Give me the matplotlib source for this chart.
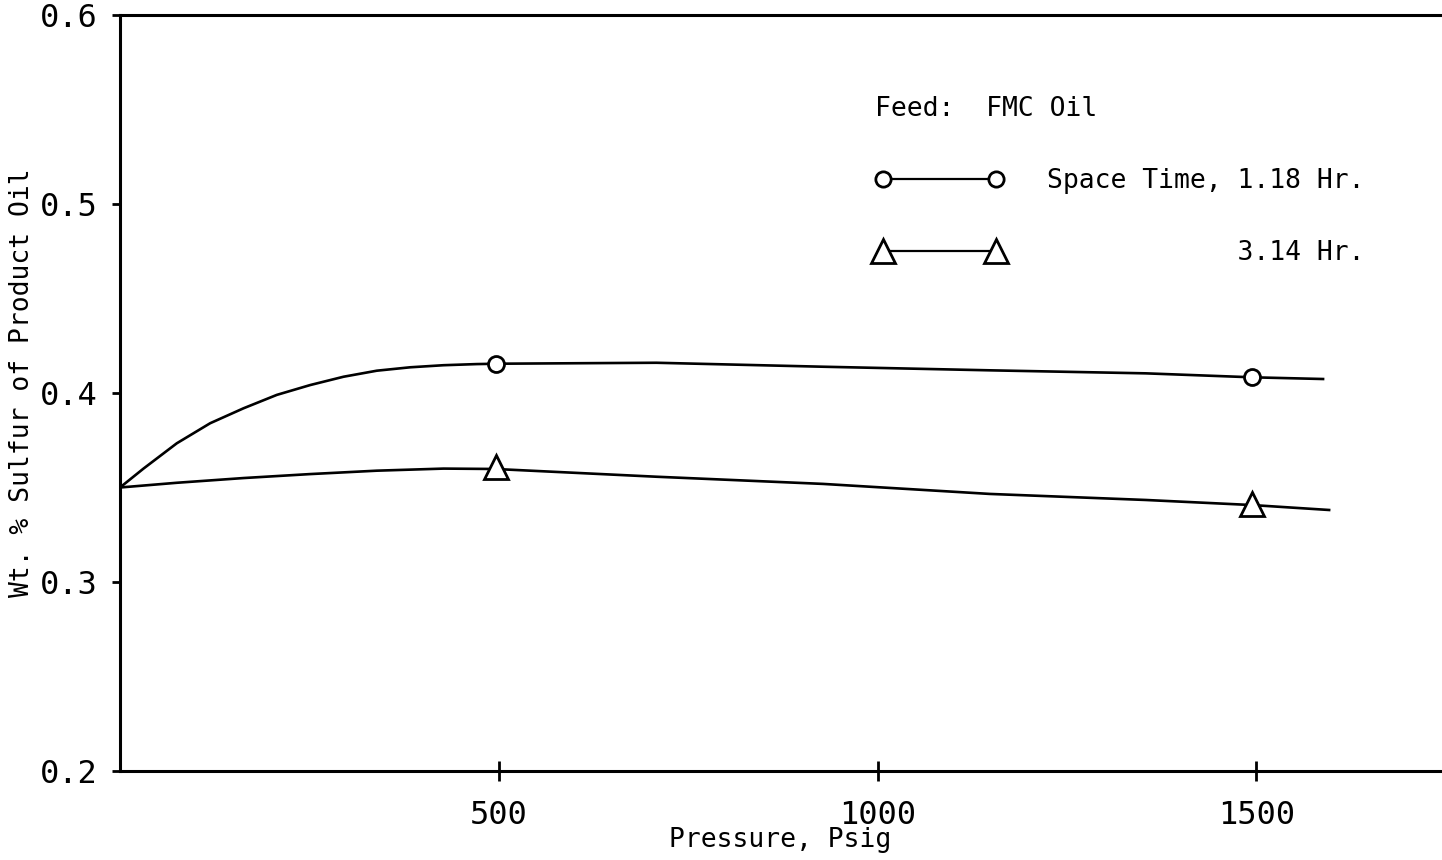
import matplotlib
matplotlib.use("Agg")
import matplotlib.pyplot as plt

# curves (smooth hand-drawn lines)
p_curve_118 = [0, 31, 75, 119, 163, 207, 251, 295, 339, 383, 427, 471, 500, 708, 928, 1148, 1354, 1495, 1588]
s_curve_118 = [0.350, 0.360, 0.3734, 0.384, 0.3919, 0.399, 0.4042, 0.4086, 0.4118, 0.4136, 0.4147, 0.4153,
               0.4155, 0.4160, 0.4139, 0.4120, 0.4104, 0.4083, 0.4074]
p_curve_314 = [0, 75, 163, 251, 339, 427, 495, 708, 928, 1148, 1354, 1495, 1596]
s_curve_314 = [0.350, 0.3525, 0.355, 0.3571, 0.3589, 0.3600, 0.3598, 0.3557, 0.3519, 0.3466, 0.3434, 0.3407, 0.3381]

# measured points
p_pts = [496, 1494]
s_pts_118 = [0.4155, 0.4083]
s_pts_314 = [0.361, 0.3412]

xticks = [500, 1000, 1500]
yticks = [0.2, 0.3, 0.4, 0.5, 0.6]

font = "DejaVu Sans Mono"
plt.rcParams['font.family'] = font

fig = plt.figure(figsize=(14.42, 8.6), dpi=100)
ax = fig.add_axes([120 / 1442, 1 - 771 / 860, 1 - 120 / 1442, 756 / 860])

lw = 1.9
ax.plot(p_curve_118, s_curve_118, color='k', lw=lw)
ax.plot(p_curve_314, s_curve_314, color='k', lw=lw)
ax.plot(p_pts, s_pts_118, ls='none', marker='o', ms=11.5, mfc='white', mec='k', mew=2)
ax.plot(p_pts, s_pts_314, ls='none', marker='^', ms=17, mfc='white', mec='k', mew=2)

# legend entries
h1, = ax.plot([], [], color='k', lw=1.6, marker='o', ms=11, mfc='white', mec='k', mew=2)
h2, = ax.plot([], [], color='k', lw=1.6, marker='^', ms=17, mfc='white', mec='k', mew=2)
leg = ax.legend([h1, h2], ["Space Time, 1.18 Hr.", "            3.14 Hr."],
                title="Feed:  FMC Oil", loc='upper left',
                bbox_to_anchor=(875 / 1442, 1 - 96 / 860), bbox_transform=fig.transFigure,
                frameon=False, numpoints=2, handlelength=4.9, handletextpad=1.6,
                labelspacing=1.75, borderpad=0, borderaxespad=0,
                prop={'family': font, 'size': 19}, title_fontproperties={'family': font, 'size': 19},
                alignment='left')

ax.set_xlim(0, 1745)
ax.set_ylim(0.2, 0.6)
ax.set_xticks(xticks)
ax.set_xticklabels([str(t) for t in xticks])
ax.set_yticks(yticks)
ax.set_yticklabels(["%.1f" % t for t in yticks])
ax.tick_params(axis='x', direction='inout', length=14, width=2, pad=14, labelsize=23)
ax.tick_params(axis='y', direction='out', length=6, width=2, pad=10, labelsize=23)

for side in ['left', 'bottom', 'top']:
    ax.spines[side].set_linewidth(2.2)
ax.spines['right'].set_visible(False)

fig.text(780 / 1442, 1 - 840 / 860, "Pressure, Psig", ha='center', va='center', fontsize=19)
fig.text(22 / 1442, 1 - 383 / 860, "Wt. % Sulfur of Product Oil", ha='center', va='center',
         rotation=90, fontsize=19)

fig.savefig("out.png", dpi=100)
